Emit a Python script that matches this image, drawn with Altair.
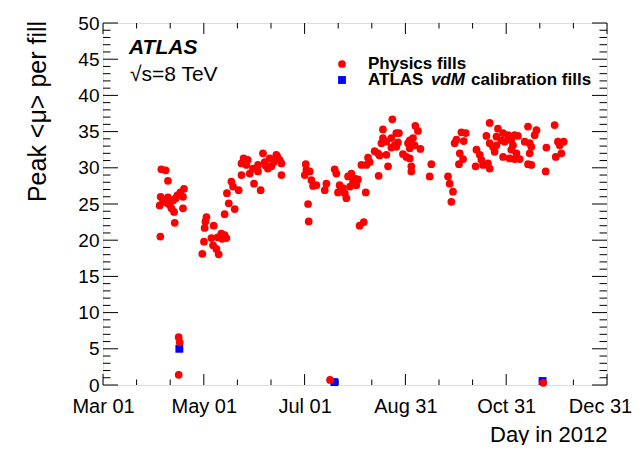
import altair as alt
import pandas as pd

# ---------------- data ----------------
START = "2012-03-01"  # day 0 of the day lists below

phys_day = [
    34.3, 34.7, 34.9, 35.3, 36.3, 37.3, 37.9, 39.0, 39.3, 39.3, 40.4, 41.4, 42.4, 43.0,
    43.4, 44.0, 45.0, 45.8, 46.4, 45.8, 46.8, 48.4, 48.4, 49.0,
    60.1, 61.1, 61.5, 62.0, 62.6, 65.6, 66.6, 67.0, 68.6, 69.4, 70.0, 71.6, 72.0, 73.6, 74.7,
    73.6, 75.0, 76.1, 77.7, 78.7, 79.7, 82.1, 83.8, 83.8, 85.1, 86.8, 87.6, 88.8, 90.8,
    91.4, 93.8, 93.8, 95.4, 96.8, 97.9, 98.5, 99.8, 100.9, 101.9, 103.3, 104.9, 105.5,
    106.9, 108.0, 108.0,
    122.1, 122.7, 123.1, 124.1, 124.5, 125.1, 126.1, 127.1, 129.1, 134.2, 135.2, 137.4,
    140.2, 141.2, 142.2, 143.2, 144.3, 145.2, 146.3, 147.3, 148.3, 149.5, 150.3, 151.3,
    152.3, 153.3, 154.3, 155.3, 156.4, 157.8, 159.0, 159.4, 160.4, 161.4, 164.4, 166.4,
    166.8, 167.4, 168.5, 169.4, 169.4, 171.5, 171.5, 172.5, 174.5, 174.5, 175.1, 176.5,
    177.5, 177.5, 178.5, 179.1, 181.5, 183.6, 184.6, 185.6, 185.6, 185.6, 186.6, 186.6,
    187.6, 188.6, 189.0, 190.6, 192.1, 197.7, 198.7,
    208.8, 209.8, 210.8, 211.8, 212.8, 213.9, 215.4, 215.9, 216.9, 217.9, 218.3, 219.5,
    225.5, 226.0, 228.0, 229.0, 230.0, 232.0, 233.0, 234.0, 234.0, 234.0, 236.0, 237.0,
    238.1, 238.1, 239.0, 241.1, 242.1, 242.1, 243.1, 245.1, 246.1, 247.1, 247.1, 248.1,
    249.1, 249.1, 250.2, 251.1, 252.2, 255.2, 257.2, 257.2, 258.2, 258.2, 259.2, 259.2,
    261.2, 262.3, 266.4, 267.9, 268.3, 273.3, 274.0, 275.3, 276.4, 277.4, 278.8,
]
phys_mu = [
    24.8, 20.5, 26.0, 29.8, 25.6, 25.3, 29.65, 25.1, 28.2, 25.9, 24.9, 24.4, 25.5, 23.9,
    22.4, 25.8, 26.2, 6.6, 5.9, 1.4, 26.6, 26.0, 24.4, 27.1,
    18.1, 19.8, 21.7, 22.6, 23.2, 20.3, 19.3, 22.0, 18.8, 20.4, 18.05, 20.9, 20.2, 20.7, 20.3,
    23.6, 26.5, 25.1, 28.1, 27.4, 24.3, 26.9, 29.0, 30.6, 31.3, 30.4, 31.1, 29.2, 29.9,
    27.8, 30.4, 29.5, 26.9, 32.0, 30.8, 30.3, 29.9, 31.3, 30.2, 30.8, 31.8, 31.5,
    31.1, 30.6, 29.0,
    29.0, 30.5, 29.7, 25.0, 22.6, 29.5, 28.3, 27.5, 27.6, 26.9, 27.8, 0.7,
    29.8, 29.2, 26.6, 27.6, 26.9, 27.2, 26.5, 25.8, 28.8, 27.4, 29.2, 28.0,
    28.5, 27.6, 28.4, 22.0, 30.4, 22.5, 26.6, 30.4, 31.4, 30.8, 32.3, 32.0,
    28.9, 31.7, 33.4, 35.3, 34.1, 31.8, 33.6, 30.2, 34.1, 32.8, 36.7, 33.1,
    34.8, 32.9, 33.5, 34.8, 31.9, 31.5, 33.4, 33.8, 32.7, 31.3, 30.2, 29.5,
    34.1, 33.1, 35.8, 35.1, 32.6, 28.8, 30.5,
    28.8, 27.8, 25.3, 26.7, 33.4, 33.9, 30.5, 32.0, 34.9, 31.2, 33.7, 34.8,
    30.2, 32.5, 31.8, 31.1, 30.4, 34.4, 30.6, 36.2, 33.4, 29.9, 32.9, 32.2,
    34.3, 33.1, 35.4, 33.8, 34.8, 31.5, 33.6, 34.5, 31.3, 33.8, 32.5, 33.1,
    34.5, 31.2, 32.0, 34.4, 31.2, 33.6, 35.7, 30.5, 33.4, 32.0, 32.9, 30.4,
    34.5, 35.2, 0.3, 29.5, 32.8, 35.9, 31.5, 33.6, 33.1, 32.0, 33.6,
]
vdm_day = [46.2, 140.0, 266.0]
vdm_mu = [5.0, 0.4, 0.55]

x_label_dates = [(2012, 3, 1), (2012, 5, 1), (2012, 7, 1), (2012, 8, 31), (2012, 10, 31), (2012, 12, 31)]
x_major_step_days = 61
x_minor_per_major = 3
y_major = list(range(0, 51, 5))
y_minor = [v for v in range(0, 51) if v % 5 != 0]

series_labels = ["Physics fills", "ATLAS", "vdM", "calibration fills"]

# ---------------- frames ----------------
t0 = pd.Timestamp(START)


def to_dates(days):
    return [t0 + pd.Timedelta(days=d) for d in days]


phys = pd.DataFrame({"date": to_dates(phys_day), "mu": phys_mu})
vdm = pd.DataFrame({"date": to_dates(vdm_day), "mu": vdm_mu})

n_minor = x_minor_per_major * 5
xt_all = [x_major_step_days * k / x_minor_per_major for k in range(n_minor + 1)]
xt_major = pd.DataFrame({"date": to_dates([d for i, d in enumerate(xt_all) if i % x_minor_per_major == 0])})
xt_minor = pd.DataFrame({"date": to_dates([d for i, d in enumerate(xt_all) if i % x_minor_per_major != 0])})
yt_major = pd.DataFrame({"mu": y_major})
yt_minor = pd.DataFrame({"mu": y_minor})

W, H = 504, 362
PAD_L, PAD_T, PAD_R, PAD_B = 95, 15, 25, 60
FONT = "Liberation Sans"

xscale = alt.Scale(domain=[alt.DateTime(year=2012, month=3, date=1),
                           alt.DateTime(year=2012, month=12, date=31)])
yscale = alt.Scale(domain=[0, 50], nice=False, zero=False)

xaxis = alt.Axis(
    values=[alt.DateTime(year=y, month=m, date=d) for (y, m, d) in x_label_dates],
    format="%b %d", labelFlush=False, labelOverlap=False,
    labelFont=FONT, labelFontSize=20, labelColor="black", labelPadding=11,
    labelOffset={"condition": {"test": "month(datum.value) == 11", "value": -7}, "value": 0},
    ticks=False, domain=False, grid=False,
    title="Day in 2012", titleFont=FONT, titleFontSize=22, titleFontWeight="normal",
    titleColor="black", titleX=W, titleY=56, titleAlign="right", titleBaseline="alphabetic",
)
yaxis = alt.Axis(
    values=y_major, labelFont=FONT, labelFontSize=19, labelColor="black", labelPadding=4,
    ticks=False, domain=False, grid=False,
    title="Peak <μ> per fill", titleFont=FONT, titleFontSize=25, titleFontWeight="normal",
    titleColor="black", titleX=-58, titleY=88, titleAlign="center",
    titleBaseline="alphabetic", titleAngle=270,
)

X = alt.X("date:T", scale=xscale, axis=xaxis)
Y = alt.Y("mu:Q", scale=yscale, axis=yaxis)


def xrule(df, a, b):
    return alt.Chart(df).mark_rule(color="black", strokeWidth=1).encode(
        x=X, y=alt.value(a), y2=alt.value(b))


def yrule(df, a, b):
    return alt.Chart(df).mark_rule(color="black", strokeWidth=1).encode(
        y=Y, x=alt.value(a), x2=alt.value(b))


XL, XS, YL, YS = 11, 5.5, 15, 7.5
ticks = [
    xrule(xt_major, H, H - XL), xrule(xt_minor, H, H - XS),
    xrule(xt_major, 0, XL), xrule(xt_minor, 0, XS),
    yrule(yt_major, 0, YL), yrule(yt_minor, 0, YS),
    yrule(yt_major, W - YL, W), yrule(yt_minor, W - YS, W),
]

squares = alt.Chart(vdm).mark_point(shape="square", filled=True, size=62, color="#0000ff",
                                     opacity=1, strokeWidth=0).encode(x=X, y=Y)
circles = alt.Chart(phys).mark_point(shape="circle", filled=True, size=60, color="#ff0000",
                                     opacity=1, strokeWidth=0).encode(x=X, y=Y)


def text(label, x, y, size, weight="normal", style="normal", baseline="alphabetic"):
    return alt.Chart(pd.DataFrame({"t": [label]})).mark_text(
        font=FONT, fontSize=size, fontWeight=weight, fontStyle=style, color="black",
        align="left", baseline=baseline).encode(text="t:N", x=alt.value(x), y=alt.value(y))


LEG_FS = 17
lx_sym, lx_txt = 239, 265
ly1, ly2 = 41, 57
w_atlas_sp = (722 + 611 + 611 + 722 + 667 + 278) * LEG_FS / 1000 + 1.5
w_vdm_sp = (556 + 611 + 833 + 278) * LEG_FS / 1000 + 1.5

legend_syms = [
    alt.Chart(pd.DataFrame({"t": [series_labels[0]]})).mark_point(
        shape="circle", filled=True, size=60, color="#ff0000", opacity=1, strokeWidth=0
    ).encode(x=alt.value(lx_sym), y=alt.value(ly1)),
    alt.Chart(pd.DataFrame({"t": [series_labels[2]]})).mark_point(
        shape="square", filled=True, size=62, color="#0000ff", opacity=1, strokeWidth=0
    ).encode(x=alt.value(lx_sym), y=alt.value(ly2)),
]
texts = [
    text("ATLAS", 26, 31, 21, weight="bold", style="italic"),
    text("√s=8 TeV", 27, 57.5, 21),
    text(series_labels[0], lx_txt, ly1, LEG_FS, weight="bold", baseline="middle"),
    text(series_labels[1], lx_txt, ly2, LEG_FS, weight="bold", baseline="middle"),
    text(series_labels[2], lx_txt + w_atlas_sp, ly2, LEG_FS, weight="bold", style="italic",
         baseline="middle"),
    text(series_labels[3], lx_txt + w_atlas_sp + w_vdm_sp, ly2, LEG_FS, weight="bold",
         baseline="middle"),
]

chart = alt.layer(*ticks, squares, circles, *legend_syms, *texts).properties(
    width=W, height=H,
    padding={"left": PAD_L, "top": PAD_T, "right": PAD_R, "bottom": PAD_B},
    autosize="none",
).configure_view(stroke="black", strokeWidth=2).configure(background="white")

chart.save("out.html", embed_options={"renderer": "svg", "actions": False})
